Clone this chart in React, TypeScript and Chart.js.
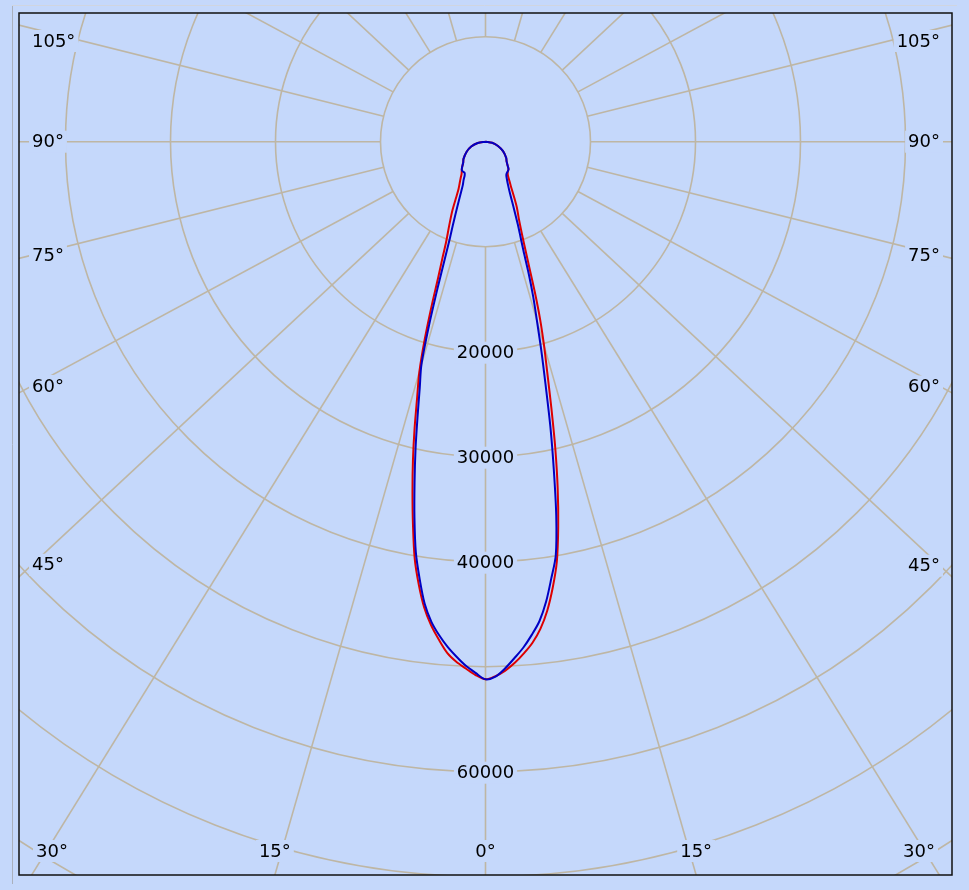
import React, { useEffect, useRef } from "react";
import { Chart, registerables } from "chart.js";

Chart.register(...registerables);

// Gamma angles (degrees from nadir) at which intensities were read
const gammaAngles = [0, 1, 2, 3, 4, 5, 6, 7, 8, 9, 10, 11, 12, 13, 14, 15, 16, 17, 18, 19, 20, 22, 24, 26, 28, 30, 32, 35, 38, 40, 45, 50, 60, 70, 80, 90, 180];

// Red plane (C0 right half, C180 left half), cd
const redC0 = [51200, 50900, 50400, 49700, 48850, 47900, 46650, 45000, 42900, 40500, 37200, 33600, 29800, 26000, 22700, 20100, 17600, 15000, 12600, 10900, 9600, 7900, 6850, 5700, 4800, 4200, 3750, 3450, 3320, 3100, 2650, 2400, 1800, 1180, 600, 0, 0];
const redC180 = [51200, 50800, 50200, 49600, 48800, 47600, 46300, 44700, 42600, 40200, 37100, 34000, 31000, 28000, 25100, 22700, 19600, 16400, 13600, 11800, 10300, 8600, 7300, 6000, 5100, 4600, 4200, 3700, 3420, 3250, 2800, 2550, 1950, 1350, 700, 0, 0];

// Blue plane (C90 right half, C270 left half), cd
const blueC90 = [51200, 50950, 50180, 49240, 48290, 47150, 45900, 44150, 42000, 39900, 36200, 31800, 27700, 23700, 20500, 17650, 15400, 13100, 10900, 9500, 8400, 6550, 5300, 4550, 4050, 3700, 3550, 3450, 3320, 3100, 2650, 2400, 1800, 1180, 600, 0, 0];
const blueC270 = [51200, 50600, 49950, 49120, 48230, 47190, 45980, 44340, 42040, 39570, 36350, 33030, 29890, 26820, 24140, 22000, 18200, 14500, 11600, 9700, 8500, 6700, 5450, 4600, 4150, 3700, 3500, 3480, 3420, 3250, 2800, 2550, 1950, 1350, 700, 0, 0];

const seriesNames = ["C0-C180", "C90-C270"];

// Grid
const ringValues = [10000, 20000, 30000, 40000, 50000, 60000, 70000, 80000, 90000];
const ringLabelValues = [20000, 30000, 40000, 60000];
const angleLabelValues = [0, 15, 30, 45, 60, 75, 90, 105];
const spokeStepDeg = 15;

// Layout / style
const W = 969;
const H = 890;
const PAD = { left: 19, top: 13, right: 17, bottom: 15 };
const CENTER_Y_OFFSET = 128.7; // px from plot top to pole
const PX_PER_CD = 0.0105;
const X_STRETCH = 1.072;
const BG = "rgb(197,216,251)";
const GRID = "rgb(190,182,164)";
const RED = "rgb(222,0,0)";
const BLUE = "rgb(0,0,196)";
const FONT = '18px "DejaVu Sans", Verdana, sans-serif';

const areaW = W - PAD.left - PAD.right;
const areaH = H - PAD.top - PAD.bottom;
const Y_MAX = CENTER_Y_OFFSET / PX_PER_CD;
const Y_MIN = -(areaH - CENTER_Y_OFFSET) / PX_PER_CD;
const X_HALF = areaW / 2 / (PX_PER_CD * X_STRETCH);

function toPoints(left: number[], right: number[]) {
  const pts: { x: number; y: number }[] = [];
  for (let i = gammaAngles.length - 1; i >= 0; i--) {
    const t = (gammaAngles[i] * Math.PI) / 180;
    pts.push({ x: -left[i] * Math.sin(t), y: -left[i] * Math.cos(t) });
  }
  for (let i = 1; i < gammaAngles.length; i++) {
    const t = (gammaAngles[i] * Math.PI) / 180;
    pts.push({ x: right[i] * Math.sin(t), y: -right[i] * Math.cos(t) });
  }
  return pts;
}

function drawLabel(ctx: CanvasRenderingContext2D, text: string, xLeft: number, yc: number) {
  const w = ctx.measureText(text).width;
  ctx.fillStyle = BG;
  ctx.fillRect(xLeft - 3, yc - 11, w + 6, 22);
  ctx.fillStyle = "#000";
  ctx.textAlign = "left";
  ctx.textBaseline = "middle";
  ctx.fillText(text, xLeft, yc + 1);
}

const polarGrid = {
  id: "polarGrid",
  beforeDatasetsDraw(chart: any) {
    const { ctx, chartArea: a, scales } = chart;
    const xs = scales.x;
    const ys = scales.y;
    const cx = xs.getPixelForValue(0);
    const cy = ys.getPixelForValue(0);
    const pr = (v: number) => Math.abs(ys.getPixelForValue(-v) - cy);
    const dirPx = (deg: number, side: number) => {
      const t = (deg * Math.PI) / 180;
      const R = 100000;
      const ex = xs.getPixelForValue(side * R * Math.sin(t)) - cx;
      const ey = ys.getPixelForValue(-R * Math.cos(t)) - cy;
      const n = Math.hypot(ex, ey);
      return [ex / n, ey / n];
    };

    ctx.save();
    ctx.fillStyle = BG;
    ctx.fillRect(a.left, a.top, a.right - a.left, a.bottom - a.top);
    ctx.beginPath();
    ctx.rect(a.left, a.top, a.right - a.left, a.bottom - a.top);
    ctx.clip();

    ctx.strokeStyle = GRID;
    ctx.lineWidth = 1.6;
    for (const v of ringValues) {
      ctx.beginPath();
      ctx.arc(cx, cy, pr(v), 0, Math.PI * 2);
      ctx.stroke();
    }
    const r0 = pr(ringValues[0]);
    for (let d = 0; d < 360; d += spokeStepDeg) {
      const [ux, uy] = dirPx(d, 1);
      ctx.beginPath();
      ctx.moveTo(cx + ux * r0, cy + uy * r0);
      ctx.lineTo(cx + ux * 3000, cy + uy * 3000);
      ctx.stroke();
    }

    ctx.font = FONT;
    // ring labels along nadir
    for (const v of ringLabelValues) {
      const txt = String(v);
      const w = ctx.measureText(txt).width;
      drawLabel(ctx, txt, cx - w / 2, cy + pr(v) + 1);
    }

    // angle labels
    const xL = a.left + 13;
    const xR = a.right - 12;
    const yB = a.bottom - 24;
    const yT = a.top + 28;
    for (const deg of angleLabelValues) {
      const sides = deg === 0 ? [1] : [-1, 1];
      for (const s of sides) {
        const txt = `${deg}°`;
        const w = ctx.measureText(txt).width;
        const [ux, uy] = dirPx(deg, s);
        const tx = Math.abs(ux) > 1e-9 ? (s < 0 ? cx - xL : xR - cx) / Math.abs(ux) : Infinity;
        const ty = uy > 1e-9 ? (yB - cy) / uy : Infinity;
        if (ty < tx) {
          let xc = cx + ux * ((a.bottom - cy) / uy);
          xc = Math.max(a.left + 17 + w / 2, Math.min(a.right - 17 - w / 2, xc));
          drawLabel(ctx, txt, xc - w / 2, yB);
        } else {
          let yc = cy + uy * tx;
          yc = Math.max(yT, Math.min(yB, yc));
          const x0 = s < 0 ? xL : xR - w;
          drawLabel(ctx, txt, x0, yc);
        }
      }
    }
    ctx.restore();
  },
  afterDraw(chart: any) {
    const { ctx, chartArea: a } = chart;
    ctx.save();
    ctx.strokeStyle = "rgb(170,176,188)";
    ctx.lineWidth = 1;
    ctx.beginPath();
    ctx.moveTo(12.5, 5);
    ctx.lineTo(12.5, 884);
    ctx.stroke();
    ctx.strokeStyle = "rgb(208,213,224)";
    ctx.beginPath();
    ctx.moveTo(12, 5.5);
    ctx.lineTo(957, 5.5);
    ctx.stroke();
    ctx.strokeStyle = "#111";
    ctx.lineWidth = 1.5;
    ctx.strokeRect(a.left, a.top, a.right - a.left, a.bottom - a.top);
    ctx.restore();
  },
};

export default function App() {
  const ref = useRef<HTMLCanvasElement | null>(null);
  useEffect(() => {
    document.body.style.margin = "0";
    document.body.style.background = BG;
    const canvas = ref.current;
    if (!canvas) return;
    const chart = new Chart(canvas, {
      type: "scatter",
      data: {
        datasets: [
          {
            label: seriesNames[1],
            data: toPoints(blueC270, blueC90),
            showLine: true,
            borderColor: BLUE,
            backgroundColor: BLUE,
            borderWidth: 2,
            pointRadius: 0,
            tension: 0.3,
          },
          {
            label: seriesNames[0],
            data: toPoints(redC180, redC0),
            showLine: true,
            borderColor: RED,
            backgroundColor: RED,
            borderWidth: 2,
            pointRadius: 0,
            tension: 0.3,
          },
        ],
      },
      options: {
        animation: false,
        responsive: false,
        devicePixelRatio: 1,
        layout: { padding: PAD },
        scales: {
          x: { type: "linear", min: -X_HALF, max: X_HALF, display: false },
          y: { type: "linear", min: Y_MIN, max: Y_MAX, display: false },
        },
        plugins: { legend: { display: false }, tooltip: { enabled: false } },
      },
      plugins: [polarGrid],
    } as any);
    return () => chart.destroy();
  }, []);
  return (
    <div style={{ width: W, height: H, background: BG }}>
      <canvas ref={ref} width={W} height={H} style={{ display: "block" }} />
    </div>
  );
}
